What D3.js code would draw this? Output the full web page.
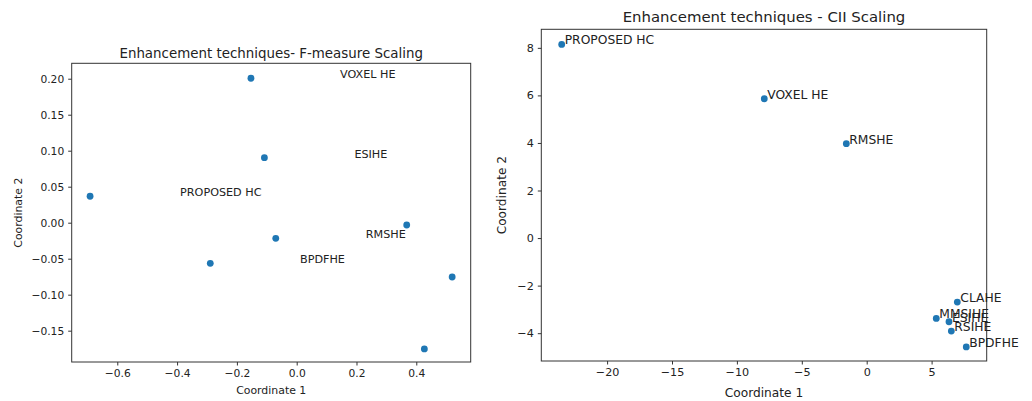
<!DOCTYPE html>
<html lang="en">
<head>
<meta charset="UTF-8">
<title>Enhancement techniques scaling</title>
<script src="https://d3js.org/d3.v7.min.js"></script>
<style>
    body { margin: 0; background: #fff; }
    svg { display: block; font-family: "DejaVu Sans", sans-serif; }
    .tick text { fill: #222; }
    .tick line { stroke: #333; }
    .frame { fill: none; stroke: #333; stroke-width: 1; }
    .title { fill: #222; text-anchor: middle; }
    .axis-label { fill: #222; text-anchor: middle; }
    .pt-label { fill: #222; }
</style>
</head>
<body>
<svg width="1032" height="401"></svg>
<script>
// F-measure scaling (left)
const fmeasureX = [-0.153, -0.108, -0.691, 0.368, -0.070, -0.289, 0.520, 0.427];
const fmeasureY = [0.2006, 0.0903, 0.0367, -0.0032, -0.0217, -0.0564, -0.0754, -0.1754];
const fmeasureLabels = ["VOXEL HE", "ESIHE", "PROPOSED HC", "RMSHE", "BPDFHE"];
const fmeasureLabelX = [0.145, 0.193, -0.390, 0.231, 0.011];
const fmeasureLabelY = [0.2006, 0.0903, 0.0367, -0.0208, -0.0564];
const fmeasureXTicks = [-0.6, -0.4, -0.2, 0.0, 0.2, 0.4];
const fmeasureYTicks = [-0.15, -0.10, -0.05, 0.00, 0.05, 0.10, 0.15, 0.20];

// CII scaling (right)
const ciiLabels = ["PROPOSED HC", "VOXEL HE", "RMSHE", "CLAHE", "MMSIHE", "ESIHE", "RSIHE", "BPDFHE"];
const ciiX = [-23.50, -7.89, -1.57, 6.98, 5.36, 6.34, 6.52, 7.67];
const ciiY = [8.145, 5.86, 3.97, -2.69, -3.38, -3.52, -3.91, -4.58];
const ciiXTicks = [-20, -15, -10, -5, 0, 5];
const ciiYTicks = [-4, -2, 0, 2, 4, 6, 8];

const svg = d3.select("svg");
const dotColor = "#1f77b4";

function drawPanel(cfg) {
    const w = cfg.right - cfg.left, h = cfg.bottom - cfg.top;
    const g = svg.append("g").attr("transform", `translate(${cfg.left},${cfg.top})`);

    const x = d3.scaleLinear().domain(cfg.xDomain).range([0, w]);
    const y = d3.scaleLinear().domain(cfg.yDomain).range([h, 0]);

    // axes
    const xa = g.append("g").attr("transform", `translate(0,${h})`)
        .call(d3.axisBottom(x).tickValues(cfg.xTicks).tickFormat(cfg.xFmt).tickSizeOuter(0).tickSize(3.5).tickPadding(4));
    const ya = g.append("g")
        .call(d3.axisLeft(y).tickValues(cfg.yTicks).tickFormat(cfg.yFmt).tickSizeOuter(0).tickSize(3.5).tickPadding(4));
    xa.select(".domain").remove();
    ya.select(".domain").remove();
    [xa, ya].forEach(a => a.attr("font-family", null).attr("font-size", cfg.fs.tick));

    g.append("rect").attr("class", "frame").attr("width", w).attr("height", h);

    // points
    g.selectAll(".dot")
        .data(cfg.px.map((v, i) => [v, cfg.py[i]]))
        .enter().append("circle")
        .attr("class", "dot")
        .attr("cx", d => x(d[0]))
        .attr("cy", d => y(d[1]))
        .attr("r", 3.4)
        .attr("fill", dotColor);

    // labels
    g.selectAll(".pt-label")
        .data(cfg.labels.map((t, i) => ({ t, lx: cfg.lx[i], ly: cfg.ly[i] })))
        .enter().append("text")
        .attr("class", "pt-label")
        .attr("font-size", cfg.fs.label)
        .attr("x", d => x(d.lx) + cfg.dx)
        .attr("y", d => y(d.ly))
        .text(d => d.t);

    // titles
    g.append("text").attr("class", "title")
        .attr("font-size", cfg.fs.title)
        .attr("x", w / 2).attr("y", cfg.titleY - cfg.top)
        .text(cfg.title);
    g.append("text").attr("class", "axis-label")
        .attr("font-size", cfg.fs.axis)
        .attr("x", w / 2).attr("y", cfg.xLabelY - cfg.top)
        .text("Coordinate 1");
    g.append("text").attr("class", "axis-label")
        .attr("font-size", cfg.fs.axis)
        .attr("transform", `translate(${cfg.yLabelX - cfg.left},${h / 2}) rotate(-90)`)
        .text("Coordinate 2");
}

drawPanel({
    left: 71.7, right: 470.7, top: 63.3, bottom: 362,
    xDomain: [-0.7525, 0.582], yDomain: [-0.1935, 0.2214],
    xTicks: fmeasureXTicks, yTicks: fmeasureYTicks,
    xFmt: d3.format(".1f"), yFmt: d3.format(".2f"),
    px: fmeasureX, py: fmeasureY,
    labels: fmeasureLabels, lx: fmeasureLabelX, ly: fmeasureLabelY, dx: 0,
    title: "Enhancement techniques- F-measure Scaling",
    fs: { title: 13.4, tick: 10.7, axis: 10.9, label: 11.2 },
    titleY: 58, xLabelY: 394.5, yLabelX: 22
});

drawPanel({
    left: 541.3, right: 986.7, top: 29.3, bottom: 361,
    xDomain: [-25.07, 9.245], yDomain: [-5.17, 8.78],
    xTicks: ciiXTicks, yTicks: ciiYTicks,
    xFmt: d3.format("d"), yFmt: d3.format("d"),
    px: ciiX, py: ciiY,
    labels: ciiLabels, lx: ciiX, ly: ciiY, dx: 3,
    title: "Enhancement techniques - CII Scaling",
    fs: { title: 14.9, tick: 11.2, axis: 12.2, label: 12.3 },
    titleY: 22, xLabelY: 397.5, yLabelX: 506
});
</script>
</body>
</html>
